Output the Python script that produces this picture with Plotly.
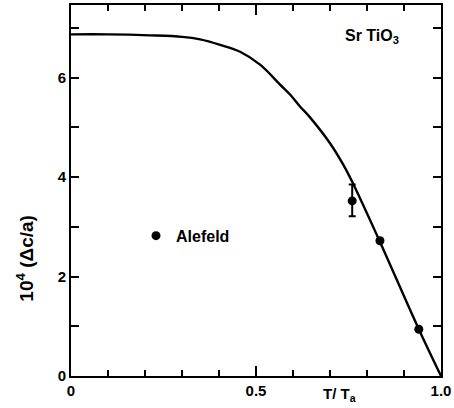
import plotly.graph_objects as go

# Curve (T/Ta, 10^4 Δc/a)
curve_x = [0.0, 0.10, 0.2135, 0.30, 0.349, 0.403, 0.457, 0.511, 0.565, 0.592, 0.619, 0.646, 0.700, 0.735, 0.759, 0.830, 0.940, 1.0]
curve_y = [6.87, 6.87, 6.85, 6.82, 6.77, 6.66, 6.52, 6.26, 5.86, 5.66, 5.42, 5.20, 4.68, 4.26, 3.92, 2.78, 0.94, 0.0]

# Alefeld data points
pts_x = [0.76, 0.835, 0.94]
pts_y = [3.52, 2.72, 0.94]
err_plus = [0.33, 0.0, 0.0]
err_minus = [0.31, 0.0, 0.0]

x_tickvals = [0, 0.5, 1.0]
x_ticktext = ["0", "0.5", "1.0"]
y_tickvals = [0, 2, 4, 6]
y_ticktext = ["0", "2", "4", "6"]

FONT = "Liberation Sans"

fig = go.Figure()
fig.add_trace(go.Scatter(x=curve_x, y=curve_y, mode="lines",
                         line=dict(color="black", width=2.4, shape="spline", smoothing=1.0),
                         showlegend=False, hoverinfo="skip"))
fig.add_trace(go.Scatter(x=pts_x, y=pts_y, mode="markers", name="Alefeld",
                         marker=dict(color="black", size=9),
                         error_y=dict(type="data", array=err_plus, arrayminus=err_minus,
                                      color="black", thickness=2, width=3.5),
                         showlegend=True))

fig.update_layout(
    width=454, height=408,
    margin=dict(l=71, r=13, t=3, b=32),
    paper_bgcolor="white", plot_bgcolor="white",
    font=dict(family=FONT, size=15, color="black"),
    showlegend=True,
    legend=dict(x=(136 - 71) / 370, y=(376 - 235) / 373, xanchor="left", yanchor="middle",
                bgcolor="rgba(0,0,0,0)", borderwidth=0, itemwidth=30,
                font=dict(family=FONT, size=16, color="black", weight="bold")),
    xaxis=dict(range=[0, 1.0], showgrid=False, zeroline=False,
               showline=True, linecolor="black", linewidth=2, mirror="allticks",
               tickmode="array", tickvals=x_tickvals, ticktext=x_ticktext,
               ticks="inside", ticklen=10, tickwidth=1.5, tickcolor="black",
               minor=dict(dtick=0.1, ticks="inside", ticklen=6, tickwidth=1.5, tickcolor="black"),
               tickfont=dict(family=FONT, size=15, color="black", weight="bold")),
    yaxis=dict(range=[0, 7.46], showgrid=False, zeroline=False,
               showline=True, linecolor="black", linewidth=2, mirror="allticks",
               tickmode="array", tickvals=y_tickvals, ticktext=y_ticktext,
               ticks="inside", ticklen=8, tickwidth=1.5, tickcolor="black",
               minor=dict(dtick=1, ticks="inside", ticklen=8, tickwidth=1.5, tickcolor="black"),
               tickfont=dict(family=FONT, size=15, color="black", weight="bold")),
)

fig.add_annotation(x=(25 - 71) / 370, y=(376 - 258) / 373, xref="paper", yref="paper",
                   xanchor="center", yanchor="middle", textangle=-90,
                   text="10<sup>4</sup> (Δc/a)", showarrow=False,
                   font=dict(family=FONT, size=19, color="black", weight="bold"))
fig.add_annotation(x=0.727, y=-0.02, xref="x", yref="paper", yanchor="top",
                   text="T/ T<sub>a</sub>", showarrow=False,
                   font=dict(family=FONT, size=15, color="black", weight="bold"))
fig.add_annotation(x=0.735, y=6.82, xref="x", yref="y", xanchor="left",
                   text="Sr TiO<sub>3</sub>", showarrow=False,
                   font=dict(family=FONT, size=16, color="black", weight="bold"))

fig.write_html("out.html")
